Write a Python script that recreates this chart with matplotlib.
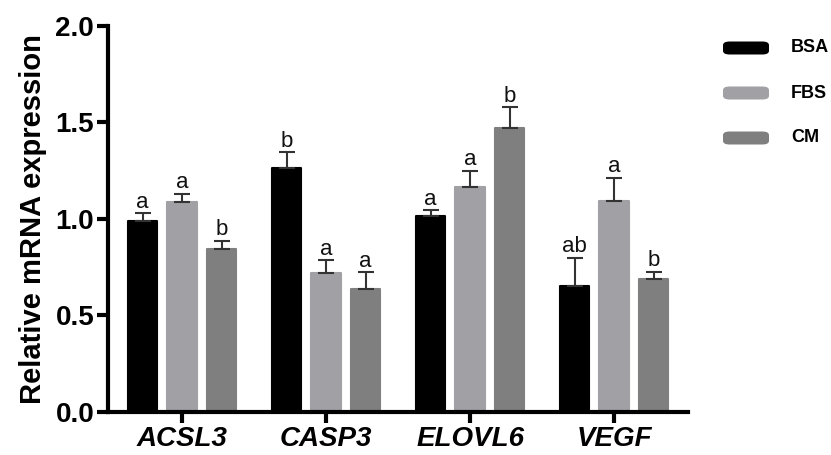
import numpy as np
import matplotlib
matplotlib.use('Agg')
import matplotlib.pyplot as plt
from matplotlib.patches import FancyBboxPatch

plt.rcParams['font.family'] = ['Liberation Sans', 'DejaVu Sans']

genes = ['ACSL3', 'CASP3', 'ELOVL6', 'VEGF']
groups = ['BSA', 'FBS', 'CM']
means = {
    'BSA': [0.99, 1.265, 1.015, 0.655],
    'FBS': [1.09, 0.718, 1.167, 1.093],
    'CM':  [0.846, 0.636, 1.473, 0.687],
}
errs = {
    'BSA': [0.04, 0.08, 0.03, 0.145],
    'FBS': [0.04, 0.068, 0.083, 0.12],
    'CM':  [0.04, 0.088, 0.105, 0.04],
}
letters = {
    'BSA': ['a', 'b', 'a', 'ab'],
    'FBS': ['a', 'a', 'a', 'a'],
    'CM':  ['b', 'a', 'b', 'b'],
}
colors = {'BSA': '#000000', 'FBS': '#a1a1a5', 'CM': '#7f7f7f'}

fig = plt.figure(figsize=(8.31, 4.55), dpi=100)
ax = fig.add_axes([0.130, 0.0945, 0.698, 0.8485])

x = np.arange(len(genes))
w = 0.205
step = 0.274
for i, g in enumerate(groups):
    pos = x + (i - 1) * step
    ax.bar(pos, means[g], width=w, color=colors[g], edgecolor=colors[g],
           linewidth=1.5, joinstyle='round', zorder=2)
    ax.errorbar(pos, means[g], yerr=[np.zeros(len(genes)), errs[g]], fmt='none',
                ecolor='#333333', elinewidth=1.5, capsize=6, capthick=1.5, zorder=3)
    for p, m, e, t in zip(pos, means[g], errs[g], letters[g]):
        ax.text(p, m + e + 0.003, t, ha='center', va='bottom', fontsize=16, color='#111111')

ax.set_xlim(-0.514, 3.514)
ax.set_ylim(0, 2.0)
ax.set_yticks([0.0, 0.5, 1.0, 1.5, 2.0])
ax.set_yticklabels(['0.0', '0.5', '1.0', '1.5', '2.0'], fontsize=20, fontweight='bold')
ax.set_xticks(x)
ax.set_xticklabels(genes, fontsize=20, fontweight='bold', fontstyle='italic')
ax.set_ylabel('Relative mRNA expression', fontsize=21, fontweight='bold', labelpad=6)
for s in ['top', 'right']:
    ax.spines[s].set_visible(False)
for s in ['left', 'bottom']:
    ax.spines[s].set_linewidth(3)
ax.tick_params(axis='both', width=3, length=8, pad=2)

# legend
lx, lw, lh = 723 / 831, 46 / 831, 13 / 455
for i, g in enumerate(groups):
    cy = 1 - (48 + 45 * i) / 455
    fig.patches.append(FancyBboxPatch((lx, cy - lh / 2), lw, lh,
                                      boxstyle='round,pad=0,rounding_size=0.008',
                                      transform=fig.transFigure, facecolor=colors[g],
                                      edgecolor='none'))
    fig.text(791 / 831, cy, g, fontsize=13, fontweight='bold', va='center', ha='left')

fig.savefig('out.png', dpi=100)
